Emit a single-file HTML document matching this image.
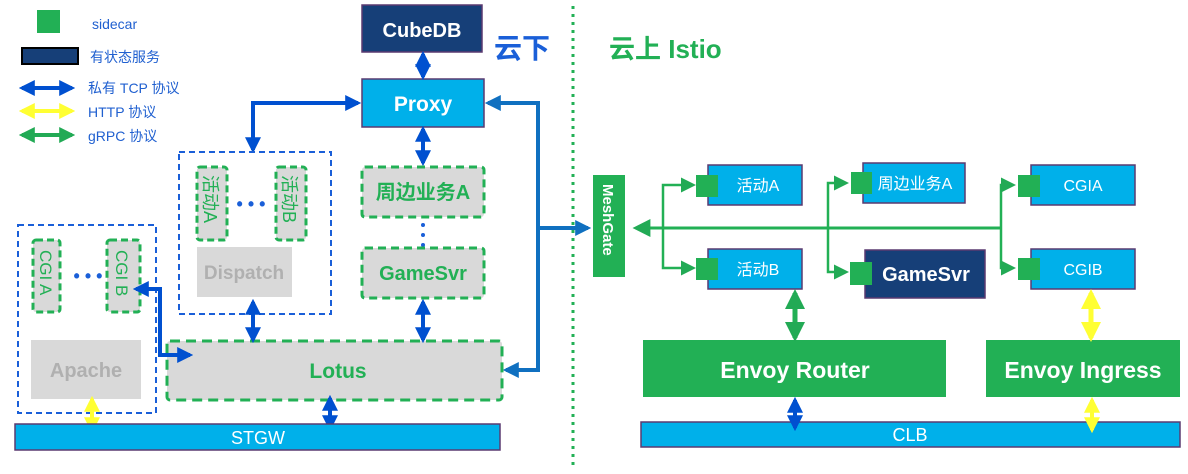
<!DOCTYPE html>
<html><head><meta charset="utf-8"><style>
html,body{margin:0;padding:0;background:#fff;}
svg{display:block;}
text{font-family:"Liberation Sans","Noto Sans CJK SC",sans-serif;}
</style></head><body>
<svg width="1188" height="474" viewBox="0 0 1188 474" xmlns="http://www.w3.org/2000/svg">
<defs>
<marker id="ab" viewBox="0 0 10 10" refX="8" refY="5" markerWidth="4" markerHeight="4" orient="auto-start-reverse"><path d="M0,0L10,5L0,10z" fill="#0050d0"/></marker>
<marker id="ab2" viewBox="0 0 10 10" refX="8" refY="5" markerWidth="4" markerHeight="4" orient="auto-start-reverse"><path d="M0,0L10,5L0,10z" fill="#1070c0"/></marker>
<marker id="ay" viewBox="0 0 10 10" refX="8" refY="5" markerWidth="4" markerHeight="4" orient="auto-start-reverse"><path d="M0,0L10,5L0,10z" fill="#ffff33"/></marker>
<marker id="ag" viewBox="0 0 10 10" refX="8" refY="5" markerWidth="4" markerHeight="4" orient="auto-start-reverse"><path d="M0,0L10,5L0,10z" fill="#22aa55"/></marker>
<marker id="ag2" viewBox="0 0 10 10" refX="8" refY="5" markerWidth="6" markerHeight="6" orient="auto-start-reverse"><path d="M0,0L10,5L0,10z" fill="#22aa55"/></marker>
</defs>

<!-- legend -->
<rect x="37" y="10" width="23" height="23" fill="#22b055"/>
<text x="92" y="29" font-size="14" fill="#2060d0">sidecar</text>
<rect x="22" y="48" width="56" height="16" fill="#163f78" stroke="#000" stroke-width="2"/>
<text x="90" y="62" font-size="14" fill="#2060d0">有状态服务</text>
<line x1="22" y1="88" x2="72" y2="88" stroke="#0050d0" stroke-width="4" marker-start="url(#ab)" marker-end="url(#ab)"/>
<text x="88" y="93" font-size="14" fill="#2060d0">私有 TCP 协议</text>
<line x1="22" y1="111" x2="72" y2="111" stroke="#ffff33" stroke-width="4" marker-start="url(#ay)" marker-end="url(#ay)"/>
<text x="88" y="117" font-size="14" fill="#2060d0">HTTP 协议</text>
<line x1="22" y1="135" x2="72" y2="135" stroke="#22aa55" stroke-width="4" marker-start="url(#ag)" marker-end="url(#ag)"/>
<text x="88" y="141" font-size="14" fill="#2060d0">gRPC 协议</text>

<!-- CubeDB / Proxy -->
<rect x="362" y="5" width="120" height="47" fill="#163f78" stroke="#5a3a70" stroke-width="1.5"/>
<text x="422" y="37" font-size="20" font-weight="bold" fill="#fff" text-anchor="middle">CubeDB</text>
<text x="494" y="58" font-size="28" font-weight="bold" fill="#1a5fd8">云下</text>
<rect x="362" y="79" width="122" height="48" fill="#00b0ea" stroke="#5a3a70" stroke-width="1.5"/>
<text x="423" y="111" font-size="21" font-weight="bold" fill="#fff" text-anchor="middle">Proxy</text>
<line x1="423" y1="54" x2="423" y2="77" stroke="#0050d0" stroke-width="4" marker-start="url(#ab)" marker-end="url(#ab)"/>
<line x1="423" y1="129" x2="423" y2="163" stroke="#0050d0" stroke-width="4" marker-start="url(#ab)" marker-end="url(#ab)"/>
<polyline points="358,103 253,103 253,150" fill="none" stroke="#0050d0" stroke-width="4" marker-start="url(#ab)" marker-end="url(#ab)"/>
<polyline points="488,103 538,103 538,370 506,370" fill="none" stroke="#1070c0" stroke-width="4" marker-start="url(#ab2)" marker-end="url(#ab2)"/>
<line x1="538" y1="228" x2="588" y2="228" stroke="#1070c0" stroke-width="4" marker-end="url(#ab2)"/>

<!-- Dispatch group -->
<rect x="179" y="152" width="152" height="162" fill="none" stroke="#1a5fd8" stroke-width="2" stroke-dasharray="6,4"/>
<rect x="197" y="167" width="30" height="73" rx="3" fill="#d9d9d9" stroke="#22b055" stroke-width="3" stroke-dasharray="7,4"/>
<text font-size="18" fill="#22b055" transform="translate(204,175) rotate(90)">活动A</text>
<rect x="276" y="167" width="30" height="73" rx="3" fill="#d9d9d9" stroke="#22b055" stroke-width="3" stroke-dasharray="7,4"/>
<text font-size="18" fill="#22b055" transform="translate(283,175) rotate(90)">活动B</text>
<text x="251" y="210" font-size="18" font-weight="bold" fill="#1a5fd8" text-anchor="middle">• • •</text>
<rect x="197" y="247" width="95" height="50" fill="#d9d9d9"/>
<text x="244" y="279" font-size="19" font-weight="bold" fill="#b0b0b0" text-anchor="middle">Dispatch</text>

<!-- 周边 / GameSvr -->
<rect x="362" y="167" width="122" height="50" rx="3" fill="#d9d9d9" stroke="#22b055" stroke-width="3" stroke-dasharray="8,5"/>
<text x="423" y="199" font-size="20" font-weight="bold" fill="#22b055" text-anchor="middle">周边业务A</text>
<circle cx="423" cy="225" r="2" fill="#1a5fd8"/><circle cx="423" cy="235" r="2" fill="#1a5fd8"/><circle cx="423" cy="245" r="2" fill="#1a5fd8"/>
<rect x="362" y="248" width="122" height="50" rx="3" fill="#d9d9d9" stroke="#22b055" stroke-width="3" stroke-dasharray="8,5"/>
<text x="423" y="280" font-size="20" font-weight="bold" fill="#22b055" text-anchor="middle">GameSvr</text>

<!-- CGI group -->
<rect x="18" y="225" width="138" height="188" fill="none" stroke="#1a5fd8" stroke-width="2" stroke-dasharray="6,4"/>
<rect x="33" y="240" width="27" height="72" rx="3" fill="#d9d9d9" stroke="#22b055" stroke-width="3" stroke-dasharray="7,4"/>
<text font-size="17" fill="#22b055" transform="translate(40,250) rotate(90)">CGI A</text>
<rect x="107" y="240" width="33" height="72" rx="3" fill="#d9d9d9" stroke="#22b055" stroke-width="3" stroke-dasharray="7,4"/>
<text font-size="17" fill="#22b055" transform="translate(116,250) rotate(90)">CGI B</text>
<text x="88" y="282" font-size="18" font-weight="bold" fill="#1a5fd8" text-anchor="middle">• • •</text>
<rect x="31" y="340" width="110" height="59" fill="#d9d9d9"/>
<text x="86" y="377" font-size="20" font-weight="bold" fill="#b0b0b0" text-anchor="middle">Apache</text>

<!-- Lotus -->
<rect x="167" y="341" width="335" height="59" rx="3" fill="#d9d9d9" stroke="#22b055" stroke-width="3" stroke-dasharray="10,6"/>
<text x="338" y="378" font-size="21" font-weight="bold" fill="#22b055" text-anchor="middle">Lotus</text>
<polyline points="136,289 160,289 160,355 190,355" fill="none" stroke="#0050d0" stroke-width="4" marker-start="url(#ab)" marker-end="url(#ab)"/>
<line x1="253" y1="302" x2="253" y2="340" stroke="#0050d0" stroke-width="4" marker-start="url(#ab)" marker-end="url(#ab)"/>
<line x1="423" y1="302" x2="423" y2="340" stroke="#0050d0" stroke-width="4" marker-start="url(#ab)" marker-end="url(#ab)"/>
<line x1="330" y1="398" x2="330" y2="428" stroke="#0050d0" stroke-width="4" marker-start="url(#ab)" marker-end="url(#ab)"/>
<line x1="92" y1="399" x2="92" y2="430" stroke="#ffff33" stroke-width="4" marker-start="url(#ay)" marker-end="url(#ay)"/>

<!-- STGW -->
<rect x="15" y="424" width="485" height="26" fill="#00b0ea" stroke="#5a3a70" stroke-width="1.5"/>
<text x="258" y="444" font-size="18" fill="#fff" text-anchor="middle">STGW</text>

<!-- divider -->
<line x1="573" y1="6" x2="573" y2="470" stroke="#22b055" stroke-width="3" stroke-dasharray="3,5"/>
<text x="609" y="58" font-size="26" font-weight="bold" fill="#22b055">云上 Istio</text>

<!-- MeshGate -->
<rect x="593" y="175" width="32" height="102" fill="#22b055"/>
<text font-size="15" font-weight="bold" fill="#fff" transform="translate(603,184) rotate(90)">MeshGate</text>

<!-- right services -->
<rect x="708" y="165" width="94" height="40" fill="#00b0ea" stroke="#5a3a70" stroke-width="1.5"/>
<text x="758" y="191" font-size="16" fill="#fff" text-anchor="middle">活动A</text>
<rect x="708" y="249" width="94" height="40" fill="#00b0ea" stroke="#5a3a70" stroke-width="1.5"/>
<text x="758" y="275" font-size="16" fill="#fff" text-anchor="middle">活动B</text>
<rect x="863" y="163" width="102" height="40" fill="#00b0ea" stroke="#5a3a70" stroke-width="1.5"/>
<text x="915" y="189" font-size="16" fill="#fff" text-anchor="middle">周边业务A</text>
<rect x="865" y="250" width="120" height="48" fill="#163f78" stroke="#5a3a70" stroke-width="1.5"/>
<text x="926" y="281" font-size="20" font-weight="bold" fill="#fff" text-anchor="middle">GameSvr</text>
<rect x="1031" y="165" width="104" height="40" fill="#00b0ea" stroke="#5a3a70" stroke-width="1.5"/>
<text x="1083" y="191" font-size="16" fill="#fff" text-anchor="middle">CGIA</text>
<rect x="1031" y="249" width="104" height="40" fill="#00b0ea" stroke="#5a3a70" stroke-width="1.5"/>
<text x="1083" y="275" font-size="16" fill="#fff" text-anchor="middle">CGIB</text>

<!-- green mesh lines -->
<line x1="1001" y1="228" x2="636" y2="228" stroke="#22b055" stroke-width="3" marker-end="url(#ag2)"/>
<polyline points="693,185 663,185 663,268 693,268" fill="none" stroke="#22b055" stroke-width="2.5" marker-start="url(#ag2)" marker-end="url(#ag2)"/>
<polyline points="846,183 828,183 828,272 846,272" fill="none" stroke="#22b055" stroke-width="2.5" marker-start="url(#ag2)" marker-end="url(#ag2)"/>
<polyline points="1013,185 1001,185 1001,268 1013,268" fill="none" stroke="#22b055" stroke-width="2.5" marker-start="url(#ag2)" marker-end="url(#ag2)"/>

<!-- sidecars -->
<rect x="696" y="175" width="22" height="22" fill="#22b055"/>
<rect x="696" y="258" width="22" height="22" fill="#22b055"/>
<rect x="851" y="172" width="21" height="22" fill="#22b055"/>
<rect x="850" y="262" width="22" height="23" fill="#22b055"/>
<rect x="1018" y="175" width="22" height="22" fill="#22b055"/>
<rect x="1018" y="258" width="22" height="22" fill="#22b055"/>

<!-- envoy -->
<rect x="643" y="340" width="303" height="57" fill="#22b055"/>
<text x="795" y="378" font-size="23" font-weight="bold" fill="#fff" text-anchor="middle">Envoy Router</text>
<rect x="986" y="340" width="194" height="57" fill="#22b055"/>
<text x="1083" y="378" font-size="23" font-weight="bold" fill="#fff" text-anchor="middle">Envoy Ingress</text>
<line x1="795" y1="293" x2="795" y2="338" stroke="#22b055" stroke-width="5" marker-start="url(#ag)" marker-end="url(#ag)"/>
<line x1="1091" y1="293" x2="1091" y2="338" stroke="#ffff33" stroke-width="5" marker-start="url(#ay)" marker-end="url(#ay)"/>
<rect x="641" y="422" width="539" height="25" fill="#00b0ea" stroke="#5a3a70" stroke-width="1.5"/>
<text x="910" y="441" font-size="18" fill="#fff" text-anchor="middle">CLB</text>
<line x1="795" y1="400" x2="795" y2="428" stroke="#0050d0" stroke-width="4" marker-start="url(#ab)" marker-end="url(#ab)"/>
<line x1="1092" y1="400" x2="1092" y2="430" stroke="#ffff33" stroke-width="4" marker-start="url(#ay)" marker-end="url(#ay)"/>
</svg>
</body></html>
